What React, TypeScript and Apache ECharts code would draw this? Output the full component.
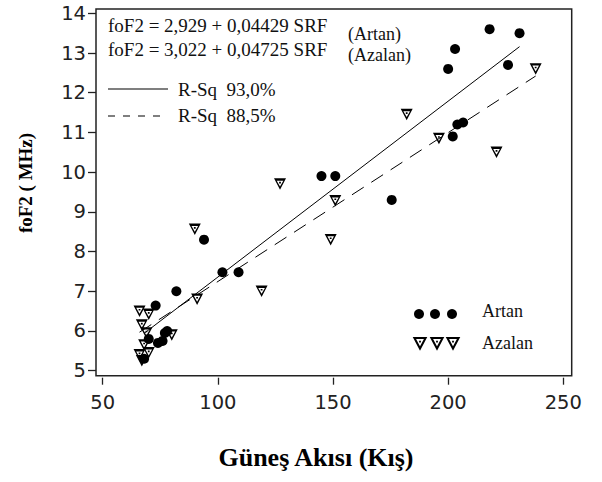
import React, { useEffect, useRef } from "react";
import * as echarts from "echarts";

// Artan (increasing) observations
const artanX = [218, 231, 203, 200, 226, 204, 206.5, 202, 145, 151, 175.5, 94, 82, 102, 109, 73, 70, 74, 76, 77, 78, 68];
const artanY = [13.6, 13.5, 13.1, 12.6, 12.7, 11.2, 11.25, 10.9, 9.9, 9.9, 9.3, 8.3, 7.0, 7.48, 7.48, 6.64, 5.8, 5.7, 5.75, 5.95, 6.0, 5.3];

// Azalan (decreasing) observations
const azalanX = [238, 182, 196, 221, 151, 149, 127, 90, 119, 91, 80, 66, 70, 67, 69, 68, 66, 70, 67];
const azalanY = [12.6, 11.45, 10.85, 10.5, 9.28, 8.3, 9.7, 8.56, 7.0, 6.8, 5.9, 6.5, 6.42, 6.15, 5.95, 5.65, 5.4, 5.45, 5.25];

// fitted lines as drawn
const artanFitX = [68, 231];
const artanFitY = [5.94, 13.16];
const azalanFitX = [66, 238];
const azalanFitY = [5.97, 12.42];

const xTicks = [50, 100, 150, 200, 250];
const yTicks = [5, 6, 7, 8, 9, 10, 11, 12, 13, 14];

const eqLines = ["foF2 = 2,929 + 0,04429 SRF", "foF2 = 3,022 + 0,04725 SRF"];
const eqTags = ["(Artan)", "(Azalan)"];
const rsqLabels = ["R-Sq  93,0%", "R-Sq  88,5%"];
const seriesNames = ["Artan", "Azalan"];

const TRI = "path://M0,0 L12,0 L6,11.5 Z M2.7,2.4 L6,8.3 L9.3,2.4 Z M5.1,3.5 L6.9,3.5 L6.9,5.1 L5.1,5.1 Z";

const zip = (a: number[], b: number[]) => a.map((v, i) => [v, b[i]]);

const serif = "'Liberation Serif', 'Times New Roman', serif";
const sans = "'DejaVu Sans', Verdana, sans-serif";

export default function App() {
  const ref = useRef<HTMLDivElement>(null);
  useEffect(() => {
    if (!ref.current) return;
    const chart = echarts.init(ref.current, undefined, { renderer: "svg" });
    const triLegend = (cx: number, cy: number) => ({
      type: "group",
      children: [
        {
          type: "polygon",
          shape: { points: [[cx - 5.6, cy - 5], [cx + 5.6, cy - 5], [cx, cy + 5.5]] },
          style: { fill: "#fff", stroke: "#000", lineWidth: 2 },
        },
        { type: "rect", shape: { x: cx - 0.9, y: cy - 2.3, width: 1.8, height: 1.7 }, style: { fill: "#000" } },
      ],
    });
    const txt = (x: number, y: number, text: string, size = 19) => ({
      type: "text",
      x,
      y,
      style: { text, font: `${size}px ${serif}`, fill: "#111", verticalAlign: "middle" },
    });
    chart.setOption({
      animation: false,
      backgroundColor: "#fff",
      grid: {
        left: 96,
        top: 9,
        right: 30.3,
        bottom: 106.3,
        show: true,
        borderColor: "#222",
        borderWidth: 1.5,
        backgroundColor: "transparent",
      },
      xAxis: {
        type: "value",
        min: 47.1,
        max: 253.65,
        offset: 2,
        axisLine: { show: false },
        axisTick: { show: true, length: 7, customValues: xTicks, lineStyle: { color: "#222", width: 1.3 } },
        axisLabel: { customValues: xTicks, fontSize: 19.5, fontFamily: sans, color: "#222", margin: 15 },
        splitLine: { show: false },
      },
      yAxis: {
        type: "value",
        min: 4.874,
        max: 14.108,
        axisLine: { show: false },
        axisTick: { show: true, length: 8, customValues: yTicks, lineStyle: { color: "#222", width: 1.3 } },
        axisLabel: { customValues: yTicks, fontSize: 19.5, fontFamily: sans, color: "#222", margin: 10 },
        splitLine: { show: false },
      },
      series: [
        {
          type: "line",
          data: zip(artanFitX, artanFitY),
          showSymbol: false,
          lineStyle: { color: "#000", width: 1 },
          z: 1,
        },
        {
          type: "line",
          data: zip(azalanFitX, azalanFitY),
          showSymbol: false,
          lineStyle: { color: "#000", width: 1, type: [14, 9] },
          z: 1,
        },
        {
          name: seriesNames[0],
          type: "scatter",
          data: zip(artanX, artanY),
          symbol: "circle",
          symbolSize: 10,
          itemStyle: { color: "#000", opacity: 1 },
          z: 3,
        },
        {
          name: seriesNames[1],
          type: "scatter",
          data: zip(azalanX, azalanY),
          symbol: TRI,
          symbolSize: [12, 11.5],
          itemStyle: { color: "#000", opacity: 1 },
          z: 4,
        },
      ],
      graphic: [
        txt(108, 25, eqLines[0]),
        txt(108, 49, eqLines[1]),
        txt(348, 34, eqTags[0], 18),
        txt(348, 55, eqTags[1], 18),
        { type: "line", shape: { x1: 108, y1: 89, x2: 168, y2: 89 }, style: { stroke: "#000", lineWidth: 1.2 } },
        { type: "line", shape: { x1: 108, y1: 116, x2: 168, y2: 116 }, style: { stroke: "#000", lineWidth: 1.2, lineDash: [7, 8] } },
        txt(178, 89, rsqLabels[0]),
        txt(178, 115, rsqLabels[1]),
        { type: "circle", shape: { cx: 419, cy: 314, r: 5 }, style: { fill: "#000" } },
        { type: "circle", shape: { cx: 435, cy: 314, r: 5 }, style: { fill: "#000" } },
        { type: "circle", shape: { cx: 452, cy: 314, r: 5 }, style: { fill: "#000" } },
        triLegend(420, 343),
        triLegend(437, 343),
        triLegend(453, 343),
        txt(482, 311, seriesNames[0], 18),
        txt(482, 343, seriesNames[1], 18),
        {
          type: "text",
          x: 316,
          y: 457,
          style: { text: "Güneş Akısı (Kış)", font: `bold 26px ${serif}`, fill: "#000", align: "center", verticalAlign: "middle" },
        },
        {
          type: "text",
          x: 25,
          y: 183,
          rotation: Math.PI / 2,
          style: { text: "foF2 ( MHz)", font: `bold 19px ${serif}`, fill: "#000", align: "center", verticalAlign: "middle" },
        },
      ],
    });
    return () => chart.dispose();
  }, []);
  return <div ref={ref} style={{ position: "absolute", left: 0, top: 0, width: 602, height: 482 }} />;
}
